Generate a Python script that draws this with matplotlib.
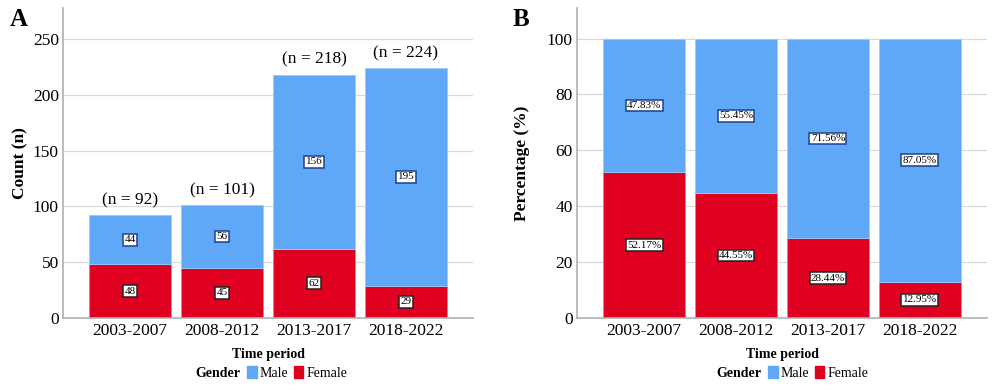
import numpy as np
import matplotlib.pyplot as plt
from matplotlib.patches import Patch

plt.rcParams['font.family'] = ['Liberation Serif', 'DejaVu Serif']

periods = ['2003-2007', '2008-2012', '2013-2017', '2018-2022']
female = [48, 45, 62, 29]
male = [44, 56, 156, 195]
totals = [92, 101, 218, 224]
female_pct = [52.17, 44.55, 28.44, 12.95]
male_pct = [47.83, 55.45, 71.56, 87.05]

blue = '#5EA8F7'
red = '#E0001F'
grid_c = '#D5DCDC'
spine_c = '#A9B3B3'

fig = plt.figure(figsize=(10, 3.91), dpi=100)
axA = fig.add_axes([0.063, 0.187, 0.41, 0.793])
axB = fig.add_axes([0.577, 0.187, 0.41, 0.793])

x = np.arange(len(periods))


def style(ax, ylim, ticks):
    ax.set_xlim(-0.73, 3.73)
    ax.set_ylim(*ylim)
    ax.set_yticks(ticks)
    ax.set_xticks(x)
    ax.set_xticklabels(periods, fontsize=12.5)
    ax.tick_params(axis='y', labelsize=12.5, length=0, pad=3)
    ax.tick_params(axis='x', length=0, pad=4)
    ax.yaxis.grid(True, color=grid_c, lw=0.9)
    ax.set_axisbelow(True)
    for s in ['top', 'right']:
        ax.spines[s].set_visible(False)
    for s in ['left', 'bottom']:
        ax.spines[s].set_color(spine_c)
        ax.spines[s].set_linewidth(1.2)
    ax.set_xlabel('Time period', fontsize=10, fontweight='bold', labelpad=6)


def vlabel(ax, xx, yy, txt, edge):
    ax.text(xx, yy, txt, ha='center', va='center', fontsize=8,
            bbox=dict(boxstyle='square,pad=0.12', fc='white', ec=edge, lw=1.1))


# Panel A: counts
axA.bar(x, female, width=0.9, color=red, edgecolor='#F47A8C', lw=0.6)
axA.bar(x, male, width=0.9, bottom=female, color=blue, edgecolor='#9CCBF8', lw=0.6)
for i in range(len(periods)):
    vlabel(axA, x[i], female[i] / 2, str(female[i]), '#222222')
    vlabel(axA, x[i], female[i] + male[i] / 2, str(male[i]), '#1F3F8F')
    axA.annotate('(n = %d)' % totals[i], (x[i], totals[i]), xytext=(0, 5),
                 textcoords='offset points', ha='center', va='bottom', fontsize=12.5)
style(axA, (0, 278), [0, 50, 100, 150, 200, 250])
axA.set_ylabel('Count (n)', fontsize=12.5, fontweight='bold', labelpad=3)

# Panel B: percentages
axB.bar(x, female_pct, width=0.9, color=red, edgecolor='#F47A8C', lw=0.6)
axB.bar(x, male_pct, width=0.9, bottom=female_pct, color=blue, edgecolor='#9CCBF8', lw=0.6)
for i in range(len(periods)):
    vlabel(axB, x[i], female_pct[i] / 2, '%.2f%%' % female_pct[i], '#222222')
    vlabel(axB, x[i], female_pct[i] + male_pct[i] / 2, '%.2f%%' % male_pct[i], '#1F3F8F')
style(axB, (0, 111), [0, 20, 40, 60, 80, 100])
axB.set_ylabel('Percentage (%)', fontsize=12.5, fontweight='bold', labelpad=12)

fig.text(0.01, 0.933, 'A', fontsize=18, fontweight='bold', va='baseline')
fig.text(0.513, 0.933, 'B', fontsize=18, fontweight='bold', va='baseline')

# legends
handles = [Patch(color=blue, label='Male'), Patch(color=red, label='Female')]
for ax, gx in [(axA, 0.195), (axB, 0.716)]:
    fig.text(gx, 0.046, 'Gender', fontsize=10, fontweight='bold', va='center')
    fig.legend(handles=handles, loc='center left', bbox_to_anchor=(gx + 0.052, 0.046),
               ncol=2, frameon=False, fontsize=10, handlelength=0.7, handleheight=0.9,
               handletextpad=0.2, columnspacing=0.4, borderpad=0, borderaxespad=0)

fig.savefig('out.png', dpi=100)
